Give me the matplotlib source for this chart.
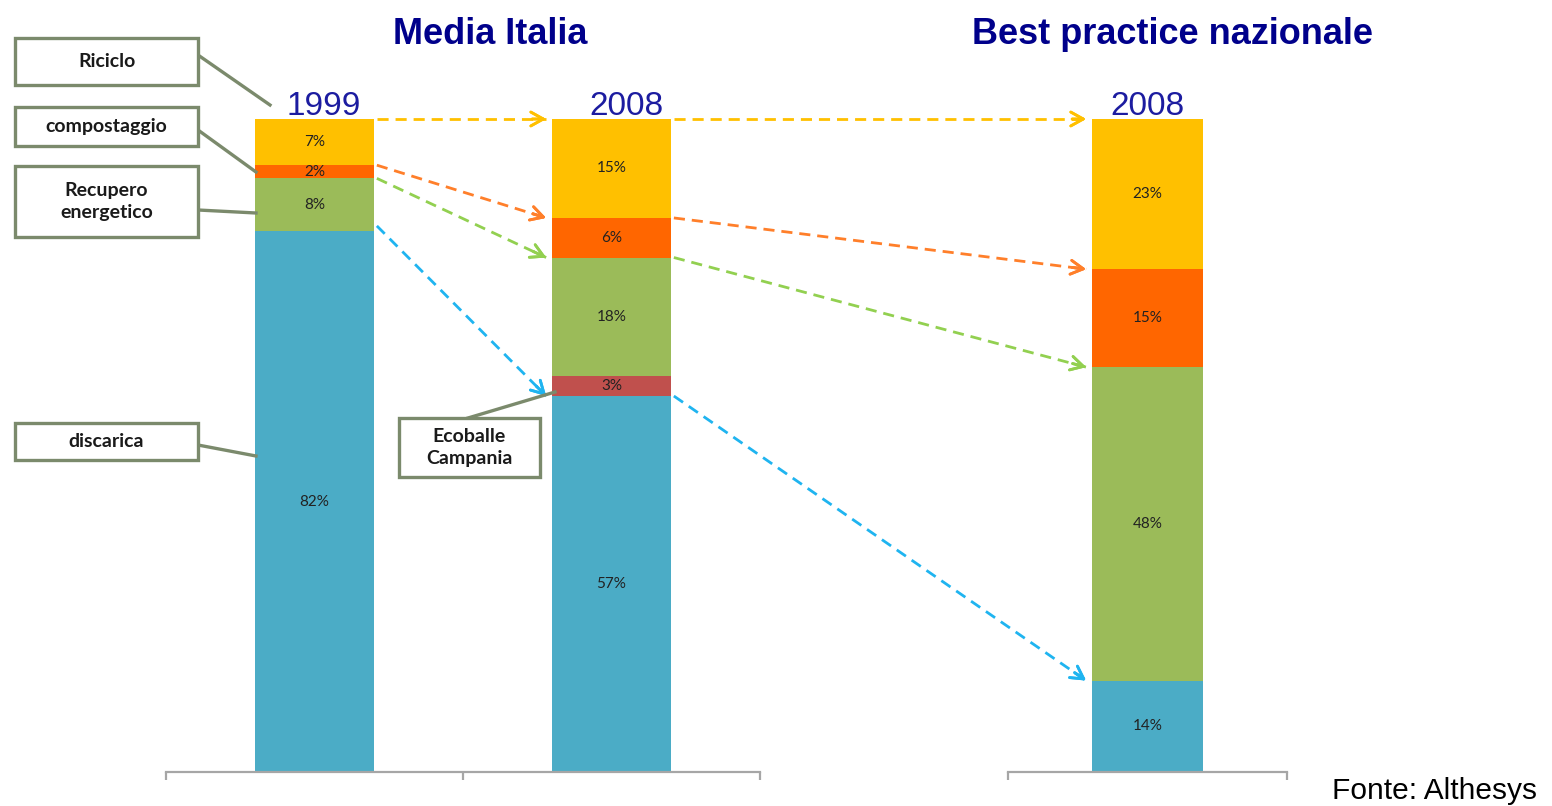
import numpy as np
import matplotlib
matplotlib.use("Agg")
import matplotlib.pyplot as plt
from matplotlib.patches import Rectangle
from matplotlib.lines import Line2D

# dati (quote %, dal basso verso l'alto)
categorie = ["discarica", "Ecoballe Campania", "Recupero energetico", "compostaggio", "Riciclo"]
anni_italia = ["1999", "2008"]
italia_1999 = [82, 0, 8, 2, 7]
italia_2008 = [57, 3, 18, 6, 15]
best_2008 = [14, 0, 48, 15, 23]
anno_best = "2008"

colori = ["#4BACC6", "#C0504D", "#9BBB59", "#FF6600", "#FFC000"]
colori_frecce = {4: "#FFC000", 3: "#FF7F2A", 2: "#92D050", 0: "#1FB4F0"}

W, H = 1552, 806
fig = plt.figure(figsize=(W / 100, H / 100), dpi=100)


def px(x, y):
    return (x / W, 1 - y / H)


def norm(v):
    # grafico 100% in pila come in Excel
    v = np.array(v, dtype=float)
    return v / v.sum() * 100


y_bot, y_top = 772, 119
ax1 = fig.add_axes([166 / W, 1 - y_bot / H, (760 - 166) / W, (y_bot - y_top) / H])
ax2 = fig.add_axes([1008 / W, 1 - y_bot / H, (1287 - 1008) / W, (y_bot - y_top) / H])

largh = 0.4
serie_sx = [norm(italia_1999), norm(italia_2008)]
serie_dx = [norm(best_2008)]
grezzi_sx = [italia_1999, italia_2008]
grezzi_dx = [best_2008]


def disegna(ax, serie, grezzi, etichette, spost):
    for i, (s, g) in enumerate(zip(serie, grezzi)):
        base = 0
        for k, (val, raw) in enumerate(zip(s, g)):
            if raw > 0:
                ax.bar(i, val, largh, bottom=base, color=colori[k], edgecolor="none")
                ax.text(i, base + val / 2, f"{raw}%", ha="center", va="center",
                        fontsize=11, color="#222222", family="Lato")
            base += val
        ax.text(i + spost[i], 99.6, etichette[i], ha="center", va="bottom",
                fontsize=24, color="#1C1CA0", family="Liberation Sans")
    ax.set_xlim(-0.5, len(serie) - 0.5)
    ax.set_ylim(0, 100)
    for s in ["top", "left", "right"]:
        ax.spines[s].set_visible(False)
    ax.spines["bottom"].set_color("#A6A6A6")
    ax.spines["bottom"].set_linewidth(1.6)
    ax.set_yticks([])
    ax.set_xticks(np.arange(len(serie) + 1) - 0.5)
    ax.set_xticklabels([])
    ax.tick_params(axis="x", direction="out", length=6, width=1.6, color="#A6A6A6")
    ax.patch.set_alpha(0)


disegna(ax1, serie_sx, grezzi_sx, anni_italia, [0.03, 0.05])
disegna(ax2, serie_dx, grezzi_dx, [anno_best], [0.0])

# titoli
fig.text(*px(490, 44), "Media Italia", ha="center", va="baseline", fontsize=26,
         fontweight="bold", color="#00008B", family="Liberation Sans")
fig.text(*px(1172, 44), "Best practice nazionale", ha="center", va="baseline", fontsize=26,
         fontweight="bold", color="#00008B", family="Liberation Sans")
fig.text(*px(1435, 791), "Fonte: Althesys", ha="center", va="center", fontsize=21.5,
         color="black", family="Liberation Sans")


# frecce tratteggiate tra le barre
def top_segmento(s, k):
    return s[:k + 1].sum()


def freccia(ax_a, xa, ya, ax_b, xb, yb, col):
    fig.canvas.draw()
    pa = ax_a.transData.transform((xa, ya))
    pb = ax_b.transData.transform((xb, yb))
    inv = fig.transFigure.inverted()
    fa, fb = inv.transform(pa), inv.transform(pb)
    fig.add_artist(Line2D([fa[0], fb[0]], [fa[1], fb[1]], transform=fig.transFigure,
                          color=col, lw=2, linestyle=(0, (4, 2.5))))
    d = pb - pa
    d = d / np.hypot(*d)
    pc = pb - d * 14
    fig.add_artist(plt.annotate("", xy=inv.transform(pb), xycoords="figure fraction",
                                xytext=inv.transform(pc), textcoords="figure fraction",
                                arrowprops=dict(arrowstyle="->,head_length=0.9,head_width=0.5",
                                                color=col, lw=2, shrinkA=0, shrinkB=0)))


s1999, s2008 = serie_sx
sbest = serie_dx[0]
for k, col in colori_frecce.items():
    y1 = top_segmento(s1999, k)
    y2 = top_segmento(s2008, k)
    y3 = top_segmento(sbest, k)
    if k == 0:
        y1 += 0.8
    freccia(ax1, 0 + largh / 2 + 0.01, y1, ax1, 1 - largh / 2 - 0.02, y2, col)
    freccia(ax1, 1 + largh / 2 + 0.01, y2, ax2, 0 - largh / 2 - 0.02, y3, col)

# riquadri di legenda con linee di richiamo
bordo = "#7B8A6C"
riquadri = [
    ("Riciclo", 15, 38, 183, 47, [(198, 55), (270, 105)]),
    ("compostaggio", 15, 107, 183, 39, [(198, 130), (256, 172)]),
    ("Recupero\nenergetico", 15, 166, 183, 71, [(198, 210), (256, 213)]),
    ("discarica", 15, 423, 183, 37, [(198, 445), (256, 456)]),
    ("Ecoballe\nCampania", 399, 418, 141, 59, [(468, 418), (555, 392)]),
]
for testo, x, y, w, h, linea in riquadri:
    (p0x, p0y), (p1x, p1y) = linea
    a, b = px(p0x, p0y), px(p1x, p1y)
    fig.add_artist(Line2D([a[0], b[0]], [a[1], b[1]], transform=fig.transFigure,
                          color=bordo, lw=2.4, zorder=5))
    fig.add_artist(Rectangle(px(x, y + h), w / W, h / H, transform=fig.transFigure,
                             facecolor="white", edgecolor=bordo, lw=2.4, zorder=6))
    fig.text(*px(x + w / 2, y + h / 2), testo, ha="center", va="center", fontsize=14,
             fontweight="bold", color="#1A1A1A", family="Lato", linespacing=1.35, zorder=7)

fig.savefig("out.png", dpi=100)
